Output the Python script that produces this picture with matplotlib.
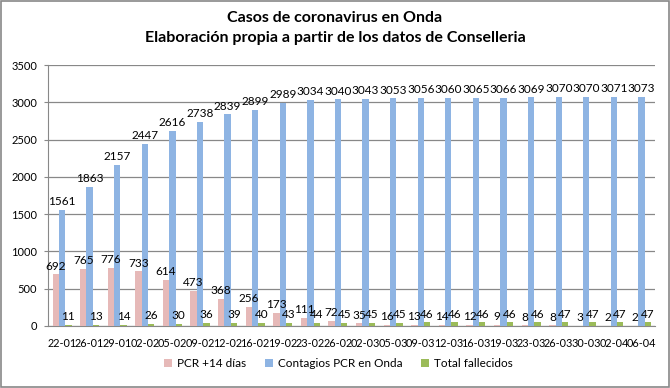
import numpy as np
import matplotlib.pyplot as plt
from matplotlib.patches import Rectangle

plt.rcParams["font.family"] = ["Lato", "DejaVu Sans"]

# Data
fechas = ["22-01", "26-01", "29-01", "02-02", "05-02", "09-02", "12-02", "16-02",
          "19-02", "23-02", "26-02", "02-03", "05-03", "09-03", "12-03", "16-03",
          "19-03", "23-03", "26-03", "30-03", "02-04", "06-04"]
pcr_14 = [692, 765, 776, 733, 614, 473, 368, 256, 173, 111, 72, 35, 16, 13, 14,
          12, 9, 8, 8, 3, 2, 2]
contagios = [1561, 1863, 2157, 2447, 2616, 2738, 2839, 2899, 2989, 3034, 3040,
             3043, 3053, 3056, 3060, 3065, 3066, 3069, 3070, 3070, 3071, 3073]
fallecidos = [11, 13, 14, 26, 30, 36, 39, 40, 43, 44, 45, 45, 45, 46, 46, 46,
              46, 46, 47, 47, 47, 47]

c_pink = "#E6B9B8"
c_blue = "#8EB4E3"
c_green = "#9BBB59"

fig = plt.figure(figsize=(6.7, 3.88), dpi=100)
ax = fig.add_axes([0.072, 0.16, 0.906, 0.672])

x = np.arange(len(fechas))
w = 0.23
b1 = ax.bar(x - w, pcr_14, w, color=c_pink, label="PCR +14 días", zorder=3)
b2 = ax.bar(x, contagios, w, color=c_blue, label="Contagios PCR en Onda", zorder=3)
b3 = ax.bar(x + w, fallecidos, w, color=c_green, label="Total fallecidos", zorder=3)

for b in (b1, b2, b3):
    ax.bar_label(b, padding=2, fontsize=8.5, zorder=4)

ax.set_xlim(-0.5, len(fechas) - 0.5)
ax.set_ylim(0, 3500)
ax.set_yticks(np.arange(0, 3501, 500))
ax.set_xticks(x)
ax.set_xticklabels(fechas)
ax.tick_params(axis="x", length=0, labelsize=7.8, pad=9)
ax.tick_params(axis="y", length=3, color="#888888", labelsize=8, pad=5)
ax.yaxis.grid(True, color="#888888", linewidth=0.9, zorder=0)
for s in ("top", "right"):
    ax.spines[s].set_visible(False)
for s in ("left", "bottom"):
    ax.spines[s].set_color("#888888")

fig.text(0.5, 0.953, "Casos de coronavirus en Onda", ha="center", va="center",
         fontsize=11.5, fontweight="bold")
fig.text(0.5, 0.902, "Elaboración propia a partir de los datos de Conselleria",
         ha="center", va="center", fontsize=11.5, fontweight="bold")

fig.legend(loc="center", bbox_to_anchor=(0.505, 0.062), ncol=3, frameon=False,
           fontsize=8.5, handlelength=0.7, handleheight=0.7, columnspacing=1.6,
           handletextpad=0.4)

fig.add_artist(Rectangle((0.002, 0.003), 0.996, 0.994, transform=fig.transFigure,
                         fill=False, edgecolor="#888888", linewidth=1.2))

fig.savefig("out.png", dpi=100)
